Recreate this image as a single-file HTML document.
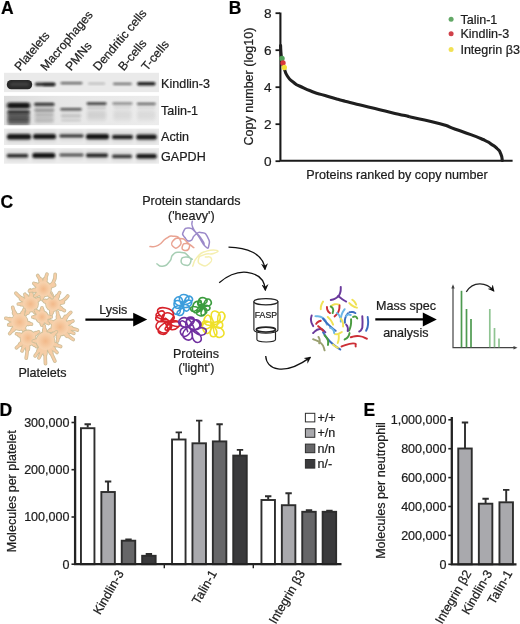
<!DOCTYPE html><html><head><meta charset="utf-8"><title>Figure</title>
<style>html,body{margin:0;padding:0;background:#fff;}svg{display:block;}text{font-family:"Liberation Sans", sans-serif;stroke:#1c1c1c;stroke-width:0.22px;}</style></head><body>
<svg width="520" height="624" viewBox="0 0 520 624">
<defs>
<filter id="b0" x="-20%" y="-50%" width="140%" height="200%"><feGaussianBlur stdDeviation="0.7"/></filter>
<filter id="b1" x="-20%" y="-100%" width="140%" height="300%"><feGaussianBlur stdDeviation="1.1 0.8"/></filter>
<filter id="b2" x="-20%" y="-100%" width="140%" height="300%"><feGaussianBlur stdDeviation="1.4 1.3"/></filter>
<filter id="b3" x="-20%" y="-50%" width="140%" height="200%"><feGaussianBlur stdDeviation="1.5 2.2"/></filter>
<filter id="soft" x="-5%" y="-5%" width="110%" height="110%"><feGaussianBlur stdDeviation="0.35"/></filter>
<radialGradient id="pg" cx="50%" cy="50%" r="50%"><stop offset="0" stop-color="#f2b98a"/><stop offset="0.7" stop-color="#f6cda6"/><stop offset="1" stop-color="#f7d3b0"/></radialGradient>
<marker id="ah" viewBox="0 0 10 10" refX="8.5" refY="5" markerWidth="5.4" markerHeight="5.4" orient="auto-start-reverse"><path d="M0,0 L10,5 L0,10 L3.2,5 z" fill="#111"/></marker>
<linearGradient id="r2" x1="0" y1="0" x2="1" y2="0"><stop offset="0" stop-color="#dcdcdc"/><stop offset="0.35" stop-color="#e6e6e6"/><stop offset="1" stop-color="#ececec"/></linearGradient>
</defs>
<rect width="520" height="624" fill="#fff"/>
<text x="0.9" y="14" font-size="17.5" text-anchor="start" font-weight="bold" fill="#000">A</text>
<text x="228.7" y="13.8" font-size="17.5" text-anchor="start" font-weight="bold" fill="#000">B</text>
<text x="0.4" y="207.9" font-size="17.5" text-anchor="start" font-weight="bold" fill="#000">C</text>
<text x="-0.5" y="415.7" font-size="17.5" text-anchor="start" font-weight="bold" fill="#000">D</text>
<text x="363.5" y="415.6" font-size="17.5" text-anchor="start" font-weight="bold" fill="#000">E</text>
<g id="panelA">
<rect x="4" y="72.8" width="155.2" height="19.5" fill="#eaeaea"/>
<rect x="4" y="95.6" width="155.2" height="29.8" fill="url(#r2)"/>
<rect x="4" y="128.4" width="155.2" height="16.6" fill="#ebebeb"/>
<rect x="4" y="148.1" width="155.2" height="15.7" fill="#ececec"/>
<g>
<rect x="6.8" y="80" width="25.4" height="9.2" rx="4.4" fill="#2a2a2a" filter="url(#b0)"/>
<rect x="10" y="82.6" width="19" height="3.6" rx="1.8" fill="#4a4a4a" opacity="0.7" filter="url(#b1)"/>
<rect x="34.95" y="82.40" width="20.5" height="3.6" rx="1.80" fill="#111" opacity="0.85" filter="url(#b1)"/>
<rect x="43.00" y="83.50" width="12" height="2.6" rx="1.30" fill="#111" opacity="0.5" filter="url(#b1)"/>
<rect x="60.50" y="82.05" width="22" height="2.3" rx="1.15" fill="#111" opacity="0.62" filter="url(#b1)"/>
<rect x="88.10" y="82.80" width="17" height="1.6" rx="0.80" fill="#111" opacity="0.25" filter="url(#b1)"/>
<rect x="112.90" y="82.65" width="19" height="2.3" rx="1.15" fill="#111" opacity="0.55" filter="url(#b1)"/>
<rect x="137.05" y="82.10" width="18.5" height="3.4" rx="1.70" fill="#111" opacity="0.92" filter="url(#b1)"/>
<rect x="7.10" y="102.60" width="23" height="6" rx="2.50" fill="#111" opacity="0.95" filter="url(#b2)"/>
<rect x="7.35" y="110.50" width="22.5" height="3" rx="1.50" fill="#111" opacity="0.8" filter="url(#b1)"/>
<rect x="7.60" y="110.50" width="22" height="13" rx="2.50" fill="#111" opacity="0.5" filter="url(#b3)"/>
<rect x="8.10" y="117.50" width="21" height="7" rx="2.50" fill="#111" opacity="0.3" filter="url(#b3)"/>
<rect x="7.60" y="114.65" width="22" height="1.3" rx="0.65" fill="#111" opacity="0.4" filter="url(#b1)"/>
<rect x="7.60" y="117.65" width="22" height="1.3" rx="0.65" fill="#111" opacity="0.35" filter="url(#b1)"/>
<rect x="7.60" y="120.55" width="22" height="1.3" rx="0.65" fill="#111" opacity="0.35" filter="url(#b1)"/>
<rect x="7.60" y="123.15" width="22" height="1.3" rx="0.65" fill="#111" opacity="0.3" filter="url(#b1)"/>
<rect x="34.05" y="102.70" width="20.5" height="3" rx="1.50" fill="#111" opacity="0.85" filter="url(#b1)"/>
<rect x="34.30" y="109.30" width="20" height="2" rx="1.00" fill="#111" opacity="0.5" filter="url(#b1)"/>
<rect x="34.80" y="106.60" width="19" height="1.4" rx="0.70" fill="#111" opacity="0.25" filter="url(#b1)"/>
<rect x="34.80" y="113.30" width="19" height="1.4" rx="0.70" fill="#111" opacity="0.2" filter="url(#b1)"/>
<rect x="34.80" y="113.00" width="19" height="9" rx="2.50" fill="#111" opacity="0.16" filter="url(#b3)"/>
<rect x="34.80" y="120.30" width="19" height="1.4" rx="0.70" fill="#111" opacity="0.15" filter="url(#b1)"/>
<rect x="60.25" y="108.05" width="21.5" height="2.5" rx="1.25" fill="#111" opacity="0.68" filter="url(#b1)"/>
<rect x="61.00" y="115.30" width="20" height="1.4" rx="0.70" fill="#111" opacity="0.2" filter="url(#b1)"/>
<rect x="61.00" y="119.85" width="20" height="1.3" rx="0.65" fill="#111" opacity="0.14" filter="url(#b1)"/>
<rect x="61.00" y="111.00" width="20" height="8" rx="2.50" fill="#111" opacity="0.06" filter="url(#b3)"/>
<rect x="86.60" y="102.30" width="20" height="2.6" rx="1.30" fill="#111" opacity="0.78" filter="url(#b1)"/>
<rect x="87.10" y="106.80" width="19" height="1.4" rx="0.70" fill="#111" opacity="0.2" filter="url(#b1)"/>
<rect x="87.10" y="110.00" width="19" height="10" rx="2.50" fill="#111" opacity="0.1" filter="url(#b3)"/>
<rect x="112.40" y="102.40" width="20" height="2" rx="1.00" fill="#111" opacity="0.55" filter="url(#b1)"/>
<rect x="113.40" y="106.30" width="18" height="1.4" rx="0.70" fill="#111" opacity="0.12" filter="url(#b1)"/>
<rect x="113.40" y="110.00" width="18" height="10" rx="2.50" fill="#111" opacity="0.07" filter="url(#b3)"/>
<rect x="136.80" y="102.70" width="19" height="2.2" rx="1.10" fill="#111" opacity="0.62" filter="url(#b1)"/>
<rect x="137.30" y="106.60" width="18" height="1.4" rx="0.70" fill="#111" opacity="0.12" filter="url(#b1)"/>
<rect x="137.30" y="110.00" width="18" height="10" rx="2.50" fill="#111" opacity="0.07" filter="url(#b3)"/>
<rect x="6.50" y="132.00" width="25" height="9.6" rx="2.50" fill="#111" opacity="0.13" filter="url(#b3)"/>
<rect x="7.00" y="134.00" width="24" height="5.6" rx="2.50" fill="#111" opacity="0.93" filter="url(#b1)"/>
<rect x="32.50" y="132.00" width="24" height="9" rx="2.50" fill="#111" opacity="0.13" filter="url(#b3)"/>
<rect x="33.00" y="134.00" width="23" height="5" rx="2.50" fill="#111" opacity="0.93" filter="url(#b1)"/>
<rect x="59.00" y="132.50" width="25" height="6.8" rx="2.50" fill="#111" opacity="0.13" filter="url(#b3)"/>
<rect x="59.50" y="134.50" width="24" height="2.8" rx="1.40" fill="#111" opacity="0.85" filter="url(#b1)"/>
<rect x="85.50" y="131.90" width="24" height="9.4" rx="2.50" fill="#111" opacity="0.13" filter="url(#b3)"/>
<rect x="86.00" y="133.90" width="23" height="5.4" rx="2.50" fill="#111" opacity="0.95" filter="url(#b1)"/>
<rect x="111.50" y="133.00" width="22" height="8" rx="2.50" fill="#111" opacity="0.13" filter="url(#b3)"/>
<rect x="112.00" y="135.00" width="21" height="4" rx="2.00" fill="#111" opacity="0.9" filter="url(#b1)"/>
<rect x="135.75" y="132.50" width="21.5" height="9" rx="2.50" fill="#111" opacity="0.13" filter="url(#b3)"/>
<rect x="136.25" y="134.50" width="20.5" height="5" rx="2.50" fill="#111" opacity="0.93" filter="url(#b1)"/>
<rect x="6.25" y="152.00" width="22.5" height="7.4" rx="2.50" fill="#111" opacity="0.12" filter="url(#b3)"/>
<rect x="6.75" y="154.00" width="21.5" height="3.4" rx="1.70" fill="#111" opacity="0.85" filter="url(#b1)"/>
<rect x="31.80" y="150.90" width="24" height="9.2" rx="2.50" fill="#111" opacity="0.12" filter="url(#b3)"/>
<rect x="32.30" y="152.90" width="23" height="5.2" rx="2.50" fill="#111" opacity="0.95" filter="url(#b1)"/>
<rect x="59.00" y="151.70" width="25" height="6.6" rx="2.50" fill="#111" opacity="0.12" filter="url(#b3)"/>
<rect x="59.50" y="153.70" width="24" height="2.6" rx="1.30" fill="#111" opacity="0.72" filter="url(#b1)"/>
<rect x="85.50" y="151.40" width="23" height="7.8" rx="2.50" fill="#111" opacity="0.12" filter="url(#b3)"/>
<rect x="86.00" y="153.40" width="22" height="3.8" rx="1.90" fill="#111" opacity="0.88" filter="url(#b1)"/>
<rect x="111.50" y="152.70" width="21" height="7.2" rx="2.50" fill="#111" opacity="0.12" filter="url(#b3)"/>
<rect x="112.00" y="154.70" width="20" height="3.2" rx="1.60" fill="#111" opacity="0.8" filter="url(#b1)"/>
<rect x="135.75" y="151.90" width="21.5" height="8.6" rx="2.50" fill="#111" opacity="0.12" filter="url(#b3)"/>
<rect x="136.25" y="153.90" width="20.5" height="4.6" rx="2.30" fill="#111" opacity="0.93" filter="url(#b1)"/>
</g>
<rect x="0" y="92.3" width="165" height="3.3" fill="#fff"/><rect x="0" y="125.4" width="165" height="3" fill="#fff"/><rect x="0" y="145" width="165" height="3.1" fill="#fff"/><rect x="0" y="163.8" width="165" height="5" fill="#fff"/><rect x="0" y="64" width="4" height="106" fill="#fff"/><rect x="159.2" y="72" width="2" height="98" fill="#fff"/>
<text x="161.1" y="88" font-size="12.55" text-anchor="start" font-weight="normal" fill="#1c1c1c">Kindlin-3</text>
<text x="161.1" y="115" font-size="12.55" text-anchor="start" font-weight="normal" fill="#1c1c1c">Talin-1</text>
<text x="161.1" y="141" font-size="12.55" text-anchor="start" font-weight="normal" fill="#1c1c1c">Actin</text>
<text x="161.1" y="160.5" font-size="12.55" text-anchor="start" font-weight="normal" fill="#1c1c1c">GAPDH</text>
<text x="20" y="71.6" font-size="12.2" text-anchor="start" font-weight="normal" fill="#1c1c1c" transform="rotate(-50 20 71.6)">Platelets</text>
<text x="46" y="71.6" font-size="12.2" text-anchor="start" font-weight="normal" fill="#1c1c1c" transform="rotate(-50 46 71.6)">Macrophages</text>
<text x="71" y="71.6" font-size="12.2" text-anchor="start" font-weight="normal" fill="#1c1c1c" transform="rotate(-50 71 71.6)">PMNs</text>
<text x="98.5" y="71.6" font-size="12.2" text-anchor="start" font-weight="normal" fill="#1c1c1c" transform="rotate(-50 98.5 71.6)">Dendritic cells</text>
<text x="123.7" y="71.6" font-size="12.2" text-anchor="start" font-weight="normal" fill="#1c1c1c" transform="rotate(-50 123.7 71.6)">B-cells</text>
<text x="147" y="71.6" font-size="12.2" text-anchor="start" font-weight="normal" fill="#1c1c1c" transform="rotate(-50 147 71.6)">T-cells</text>
</g>
<g id="panelB">
<path d="M280.4,12.4 V160.8 H512.6" fill="none" stroke="#1a1a1a" stroke-width="2.1"/>
<line x1="275.5" y1="161.2" x2="280" y2="161.2" stroke="#1a1a1a" stroke-width="1.8"/>
<text x="271.6" y="166.1" font-size="13.6" text-anchor="end" font-weight="normal" fill="#1c1c1c">0</text>
<line x1="275.5" y1="124.19999999999999" x2="280" y2="124.19999999999999" stroke="#1a1a1a" stroke-width="1.8"/>
<text x="271.6" y="129.1" font-size="13.6" text-anchor="end" font-weight="normal" fill="#1c1c1c">2</text>
<line x1="275.5" y1="87.19999999999999" x2="280" y2="87.19999999999999" stroke="#1a1a1a" stroke-width="1.8"/>
<text x="271.6" y="92.1" font-size="13.6" text-anchor="end" font-weight="normal" fill="#1c1c1c">4</text>
<line x1="275.5" y1="50.19999999999999" x2="280" y2="50.19999999999999" stroke="#1a1a1a" stroke-width="1.8"/>
<text x="271.6" y="55.09999999999999" font-size="13.6" text-anchor="end" font-weight="normal" fill="#1c1c1c">6</text>
<line x1="275.5" y1="13.199999999999989" x2="280" y2="13.199999999999989" stroke="#1a1a1a" stroke-width="1.8"/>
<text x="271.6" y="18.099999999999987" font-size="13.6" text-anchor="end" font-weight="normal" fill="#1c1c1c">8</text>
<text x="253.3" y="86.6" font-size="12.55" text-anchor="middle" font-weight="normal" fill="#1c1c1c" transform="rotate(-90 253.3 86.6)">Copy number (log10)</text>
<text x="397" y="179" font-size="12.6" text-anchor="middle" font-weight="normal" fill="#1c1c1c">Proteins ranked by copy number</text>
<path d="M280.60,45.50 C280.70,47.67 280.57,47.83 280.90,52.00 C281.23,56.17 281.03,54.33 281.60,58.00 C282.17,61.67 281.80,59.83 282.60,63.00 C283.40,66.17 282.37,63.08 284.00,67.50 C285.63,71.92 284.25,71.25 287.50,76.25 C290.75,81.25 289.58,79.17 293.75,82.50 C297.92,85.83 293.75,83.17 300.00,86.25 C306.25,89.33 304.17,88.67 312.50,91.75 C320.83,94.83 316.67,93.00 325.00,95.50 C333.33,98.00 329.17,96.92 337.50,99.25 C345.83,101.58 341.67,100.42 350.00,102.50 C358.33,104.58 354.17,103.50 362.50,105.50 C370.83,107.50 365.83,106.27 375.00,108.50 C384.17,110.73 380.00,109.83 390.00,112.20 C400.00,114.57 396.67,113.67 405.00,115.60 C413.33,117.53 403.33,115.25 415.00,118.00 C426.67,120.75 426.53,120.12 440.00,123.85 C453.47,127.58 445.13,125.62 455.40,129.20 C465.67,132.78 461.60,131.17 470.80,134.60 C480.00,138.03 476.33,136.42 483.00,139.50 C489.67,142.58 486.13,140.85 490.80,143.85 C495.47,146.85 493.67,145.17 497.00,148.50 C500.33,151.83 499.03,149.85 500.80,153.85 C502.57,157.85 501.80,158.28 502.30,160.50" fill="none" stroke="#1f1f1f" stroke-width="3.1" stroke-linecap="round" stroke-linejoin="round"/>
<circle cx="282" cy="58.5" r="2.7" fill="#4f9f58"/>
<circle cx="283" cy="63" r="2.7" fill="#d8373d"/>
<circle cx="284.3" cy="67.5" r="2.7" fill="#f3df3c"/>
<circle cx="451.1" cy="19.2" r="2.5" fill="#62a866"/>
<text x="460.4" y="23.799999999999997" font-size="12.55" text-anchor="start" font-weight="normal" fill="#1c1c1c">Talin-1</text>
<circle cx="451.1" cy="33.8" r="2.5" fill="#d0414a"/>
<text x="460.4" y="38.4" font-size="12.55" text-anchor="start" font-weight="normal" fill="#1c1c1c">Kindlin-3</text>
<circle cx="451.1" cy="49.6" r="2.5" fill="#f1e155"/>
<text x="460.4" y="54.2" font-size="12.55" text-anchor="start" font-weight="normal" fill="#1c1c1c">Integrin β3</text>
</g>
<g id="panelC">
<g filter="url(#soft)">
<path d="M28.6,302.9 Q19.9,297.9 15.9,293.2 M30.7,301.8 Q31.4,294.0 30.1,289.9 M32.4,302.9 Q38.3,299.5 41.1,297.9 M28.2,304.0 Q21.5,304.0 18.3,304.0 M29.7,306.1 Q27.4,312.4 25.1,314.9 M31.6,305.9 Q34.7,311.3 36.1,313.7 M29.4,302.1 Q26.3,296.7 24.9,294.3" fill="none" stroke="#cdbf9a" stroke-width="3.7" stroke-linecap="round"/><path d="M28.6,302.9 L21.4,298.8 M30.7,301.8 L31.3,294.7 M32.4,302.9 L38.1,299.6 M28.2,304.0 L21.7,304.0 M29.7,306.1 L27.5,312.3 M31.6,305.9 L34.8,311.4 M29.4,302.1 L26.2,296.6" fill="none" stroke="#cdbf9a" stroke-width="5.2" stroke-linecap="round"/><circle cx="30.5" cy="304" r="8.4" fill="#cdbf9a"/><path d="M28.6,302.9 Q19.9,297.9 15.9,293.2 M30.7,301.8 Q31.4,294.0 30.1,289.9 M32.4,302.9 Q38.3,299.5 41.1,297.9 M28.2,304.0 Q21.5,304.0 18.3,304.0 M29.7,306.1 Q27.4,312.4 25.1,314.9 M31.6,305.9 Q34.7,311.3 36.1,313.7 M29.4,302.1 Q26.3,296.7 24.9,294.3" fill="none" stroke="#f6cda6" stroke-width="2.1" stroke-linecap="round"/><path d="M28.6,302.9 L21.4,298.8 M30.7,301.8 L31.3,294.7 M32.4,302.9 L38.1,299.6 M28.2,304.0 L21.7,304.0 M29.7,306.1 L27.5,312.3 M31.6,305.9 L34.8,311.4 M29.4,302.1 L26.2,296.6" fill="none" stroke="#f6cda6" stroke-width="3.5" stroke-linecap="round"/><circle cx="30.5" cy="304" r="7.5" fill="url(#pg)"/>
<path d="M55.1,303.6 Q64.3,301.6 67.8,296.0 M54.0,302.2 Q57.7,295.9 59.6,292.6 M54.8,305.1 Q61.1,308.7 64.4,310.6 M52.6,306.1 Q51.6,312.1 51.1,315.0 M51.0,303.3 Q45.8,301.4 43.4,300.5 M52.6,301.9 Q51.6,295.9 51.1,293.0" fill="none" stroke="#cdbf9a" stroke-width="3.7" stroke-linecap="round"/><path d="M55.1,303.6 L62.6,302.0 M54.0,302.2 L57.4,296.4 M54.8,305.1 L60.6,308.4 M52.6,306.1 L51.6,312.1 M51.0,303.3 L45.6,301.3 M52.6,301.9 L51.6,295.9" fill="none" stroke="#cdbf9a" stroke-width="5.2" stroke-linecap="round"/><circle cx="53" cy="304" r="7.9" fill="#cdbf9a"/><path d="M55.1,303.6 Q64.3,301.6 67.8,296.0 M54.0,302.2 Q57.7,295.9 59.6,292.6 M54.8,305.1 Q61.1,308.7 64.4,310.6 M52.6,306.1 Q51.6,312.1 51.1,315.0 M51.0,303.3 Q45.8,301.4 43.4,300.5 M52.6,301.9 Q51.6,295.9 51.1,293.0" fill="none" stroke="#f6cda6" stroke-width="2.1" stroke-linecap="round"/><path d="M55.1,303.6 L62.6,302.0 M54.0,302.2 L57.4,296.4 M54.8,305.1 L60.6,308.4 M52.6,306.1 L51.6,312.1 M51.0,303.3 L45.6,301.3 M52.6,301.9 L51.6,295.9" fill="none" stroke="#f6cda6" stroke-width="3.5" stroke-linecap="round"/><circle cx="53" cy="304" r="7" fill="url(#pg)"/>
<path d="M42.8,286.9 Q40.3,279.2 37.7,275.5 M43.9,286.8 Q45.3,278.6 47.0,274.2 M45.6,288.2 Q55.9,284.0 55.2,274.3 M41.3,289.3 Q33.5,290.4 29.4,291.0 M41.8,290.4 Q37.1,294.4 34.9,296.2 M45.1,290.6 Q49.8,295.3 52.1,297.6 M43.1,291.2 Q42.1,296.7 41.7,299.0 M41.6,287.9 Q36.2,284.8 33.8,283.4" fill="none" stroke="#cdbf9a" stroke-width="3.7" stroke-linecap="round"/><path d="M42.8,286.9 L40.6,279.9 M43.9,286.8 L45.2,279.5 M45.6,288.2 L53.8,284.9 M41.3,289.3 L34.2,290.3 M41.8,290.4 L37.0,294.5 M45.1,290.6 L49.7,295.2 M43.1,291.2 L42.1,297.1 M41.6,287.9 L36.1,284.7" fill="none" stroke="#cdbf9a" stroke-width="5.2" stroke-linecap="round"/><circle cx="43.5" cy="289" r="8.4" fill="#cdbf9a"/><path d="M42.8,286.9 Q40.3,279.2 37.7,275.5 M43.9,286.8 Q45.3,278.6 47.0,274.2 M45.6,288.2 Q55.9,284.0 55.2,274.3 M41.3,289.3 Q33.5,290.4 29.4,291.0 M41.8,290.4 Q37.1,294.4 34.9,296.2 M45.1,290.6 Q49.8,295.3 52.1,297.6 M43.1,291.2 Q42.1,296.7 41.7,299.0 M41.6,287.9 Q36.2,284.8 33.8,283.4" fill="none" stroke="#f6cda6" stroke-width="2.1" stroke-linecap="round"/><path d="M42.8,286.9 L40.6,279.9 M43.9,286.8 L45.2,279.5 M45.6,288.2 L53.8,284.9 M41.3,289.3 L34.2,290.3 M41.8,290.4 L37.0,294.5 M45.1,290.6 L49.7,295.2 M43.1,291.2 L42.1,297.1 M41.6,287.9 L36.1,284.7" fill="none" stroke="#f6cda6" stroke-width="3.5" stroke-linecap="round"/><circle cx="43.5" cy="289" r="7.5" fill="url(#pg)"/>
<path d="M42.0,315.2 Q42.0,310.1 42.0,307.8 M43.8,317.0 Q48.9,317.0 51.2,317.0 M40.2,317.0 Q35.1,317.0 32.8,317.0 M42.0,318.8 Q42.0,323.3 42.0,325.2 M43.3,318.3 Q46.9,321.9 48.5,323.5 M40.7,315.7 Q37.1,312.1 35.5,310.5" fill="none" stroke="#cdbf9a" stroke-width="3.7" stroke-linecap="round"/><path d="M42.0,315.2 L42.0,310.1 M43.8,317.0 L48.9,317.0 M40.2,317.0 L35.1,317.0 M42.0,318.8 L42.0,323.6 M43.3,318.3 L46.9,321.9 M40.7,315.7 L37.1,312.1" fill="none" stroke="#cdbf9a" stroke-width="5.2" stroke-linecap="round"/><circle cx="42" cy="317" r="6.9" fill="#cdbf9a"/><path d="M42.0,315.2 Q42.0,310.1 42.0,307.8 M43.8,317.0 Q48.9,317.0 51.2,317.0 M40.2,317.0 Q35.1,317.0 32.8,317.0 M42.0,318.8 Q42.0,323.3 42.0,325.2 M43.3,318.3 Q46.9,321.9 48.5,323.5 M40.7,315.7 Q37.1,312.1 35.5,310.5" fill="none" stroke="#f6cda6" stroke-width="2.1" stroke-linecap="round"/><path d="M42.0,315.2 L42.0,310.1 M43.8,317.0 L48.9,317.0 M40.2,317.0 L35.1,317.0 M42.0,318.8 L42.0,323.6 M43.3,318.3 L46.9,321.9 M40.7,315.7 L37.1,312.1" fill="none" stroke="#f6cda6" stroke-width="3.5" stroke-linecap="round"/><circle cx="42" cy="317" r="6" fill="url(#pg)"/>
<path d="M17.2,321.4 Q9.6,319.4 5.8,318.3 M18.3,319.9 Q13.8,312.2 12.7,307.3 M18.0,323.8 Q12.6,330.2 9.7,333.6 M20.3,319.7 Q22.8,312.9 24.0,309.6 M20.7,324.1 Q24.1,329.9 25.6,332.6 M21.9,322.4 Q28.5,323.6 31.5,324.1 M17.2,322.6 Q11.2,324.2 8.7,324.9" fill="none" stroke="#cdbf9a" stroke-width="3.7" stroke-linecap="round"/><path d="M17.2,321.4 L10.1,319.5 M18.3,319.9 L14.4,313.1 M18.0,323.8 L13.1,329.7 M20.3,319.7 L22.7,313.1 M20.7,324.1 L24.1,329.9 M21.9,322.4 L28.5,323.6 M17.2,322.6 L10.9,324.3" fill="none" stroke="#cdbf9a" stroke-width="5.2" stroke-linecap="round"/><circle cx="19.5" cy="322" r="8.9" fill="#cdbf9a"/><path d="M17.2,321.4 Q9.6,319.4 5.8,318.3 M18.3,319.9 Q13.8,312.2 12.7,307.3 M18.0,323.8 Q12.6,330.2 9.7,333.6 M20.3,319.7 Q22.8,312.9 24.0,309.6 M20.7,324.1 Q24.1,329.9 25.6,332.6 M21.9,322.4 Q28.5,323.6 31.5,324.1 M17.2,322.6 Q11.2,324.2 8.7,324.9" fill="none" stroke="#f6cda6" stroke-width="2.1" stroke-linecap="round"/><path d="M17.2,321.4 L10.1,319.5 M18.3,319.9 L14.4,313.1 M18.0,323.8 L13.1,329.7 M20.3,319.7 L22.7,313.1 M20.7,324.1 L24.1,329.9 M21.9,322.4 L28.5,323.6 M17.2,322.6 L10.9,324.3" fill="none" stroke="#f6cda6" stroke-width="3.5" stroke-linecap="round"/><circle cx="19.5" cy="322" r="8" fill="url(#pg)"/>
<path d="M26.3,339.4 Q19.9,344.8 16.4,347.8 M27.9,340.2 Q27.5,351.4 26.2,358.1 M29.6,339.6 Q34.3,344.3 36.6,346.6 M25.9,337.2 Q19.6,334.9 16.5,333.8 M29.9,336.9 Q35.8,333.5 38.6,331.9 M27.0,340.0 Q23.7,347.1 22.0,350.9" fill="none" stroke="#cdbf9a" stroke-width="3.7" stroke-linecap="round"/><path d="M26.3,339.4 L20.6,344.2 M27.9,340.2 L27.6,349.0 M29.6,339.6 L34.2,344.2 M25.9,337.2 L19.7,335.0 M29.9,336.9 L35.6,333.6 M27.0,340.0 L24.0,346.5" fill="none" stroke="#cdbf9a" stroke-width="5.2" stroke-linecap="round"/><circle cx="28" cy="338" r="8.4" fill="#cdbf9a"/><path d="M26.3,339.4 Q19.9,344.8 16.4,347.8 M27.9,340.2 Q27.5,351.4 26.2,358.1 M29.6,339.6 Q34.3,344.3 36.6,346.6 M25.9,337.2 Q19.6,334.9 16.5,333.8 M29.9,336.9 Q35.8,333.5 38.6,331.9 M27.0,340.0 Q23.7,347.1 22.0,350.9" fill="none" stroke="#f6cda6" stroke-width="2.1" stroke-linecap="round"/><path d="M26.3,339.4 L20.6,344.2 M27.9,340.2 L27.6,349.0 M29.6,339.6 L34.2,344.2 M25.9,337.2 L19.7,335.0 M29.9,336.9 L35.6,333.6 M27.0,340.0 L24.0,346.5" fill="none" stroke="#f6cda6" stroke-width="3.5" stroke-linecap="round"/><circle cx="28" cy="338" r="7.5" fill="url(#pg)"/>
<path d="M62.5,327.2 Q72.2,328.1 77.4,330.1 M61.3,324.8 Q66.3,316.1 70.8,312.4 M59.6,324.5 Q58.1,316.3 57.4,312.0 M61.6,329.0 Q68.1,336.6 73.2,339.5 M59.6,329.5 Q58.2,337.2 57.5,341.0 M57.6,327.9 Q51.3,330.2 48.5,331.2 M57.8,325.7 Q52.0,322.4 49.4,320.9 M62.3,325.9 Q69.4,322.6 72.9,321.0 M62.3,328.1 Q69.9,331.6 73.8,333.4" fill="none" stroke="#cdbf9a" stroke-width="3.7" stroke-linecap="round"/><path d="M62.5,327.2 L71.0,328.0 M61.3,324.8 L65.6,317.3 M59.6,324.5 L58.2,316.8 M61.6,329.0 L67.2,335.6 M59.6,329.5 L58.2,336.9 M57.6,327.9 L51.0,330.3 M57.8,325.7 L51.7,322.2 M62.3,325.9 L69.2,322.7 M62.3,328.1 L69.4,331.4" fill="none" stroke="#cdbf9a" stroke-width="5.2" stroke-linecap="round"/><circle cx="60" cy="327" r="9.4" fill="#cdbf9a"/><path d="M62.5,327.2 Q72.2,328.1 77.4,330.1 M61.3,324.8 Q66.3,316.1 70.8,312.4 M59.6,324.5 Q58.1,316.3 57.4,312.0 M61.6,329.0 Q68.1,336.6 73.2,339.5 M59.6,329.5 Q58.2,337.2 57.5,341.0 M57.6,327.9 Q51.3,330.2 48.5,331.2 M57.8,325.7 Q52.0,322.4 49.4,320.9 M62.3,325.9 Q69.4,322.6 72.9,321.0 M62.3,328.1 Q69.9,331.6 73.8,333.4" fill="none" stroke="#f6cda6" stroke-width="2.1" stroke-linecap="round"/><path d="M62.5,327.2 L71.0,328.0 M61.3,324.8 L65.6,317.3 M59.6,324.5 L58.2,316.8 M61.6,329.0 L67.2,335.6 M59.6,329.5 L58.2,336.9 M57.6,327.9 L51.0,330.3 M57.8,325.7 L51.7,322.2 M62.3,325.9 L69.2,322.7 M62.3,328.1 L69.4,331.4" fill="none" stroke="#f6cda6" stroke-width="3.5" stroke-linecap="round"/><circle cx="60" cy="327" r="8.5" fill="url(#pg)"/>
<path d="M45.4,343.7 Q45.0,356.2 45.5,363.7 M46.6,343.4 Q51.8,354.5 54.9,361.1 M44.0,343.2 Q38.2,351.4 35.1,355.9 M45.3,338.3 Q44.5,330.0 44.2,325.9 M48.0,341.9 Q56.4,345.0 60.7,346.5 M42.8,341.0 Q36.1,341.0 33.3,341.0 M47.6,339.3 Q53.6,334.2 56.4,331.9 M44.7,343.6 Q41.6,353.1 38.9,357.9 M47.4,342.9 Q53.7,349.2 57.0,352.5" fill="none" stroke="#cdbf9a" stroke-width="3.7" stroke-linecap="round"/><path d="M45.4,343.7 L45.1,353.8 M46.6,343.4 L50.9,352.5 M44.0,343.2 L38.9,350.5 M45.3,338.3 L44.6,330.3 M48.0,341.9 L55.9,344.8 M42.8,341.0 L35.6,341.0 M47.6,339.3 L53.5,334.3 M44.7,343.6 L41.9,352.0 M47.4,342.9 L53.3,348.8" fill="none" stroke="#cdbf9a" stroke-width="5.2" stroke-linecap="round"/><circle cx="45.5" cy="341" r="9.9" fill="#cdbf9a"/><path d="M45.4,343.7 Q45.0,356.2 45.5,363.7 M46.6,343.4 Q51.8,354.5 54.9,361.1 M44.0,343.2 Q38.2,351.4 35.1,355.9 M45.3,338.3 Q44.5,330.0 44.2,325.9 M48.0,341.9 Q56.4,345.0 60.7,346.5 M42.8,341.0 Q36.1,341.0 33.3,341.0 M47.6,339.3 Q53.6,334.2 56.4,331.9 M44.7,343.6 Q41.6,353.1 38.9,357.9 M47.4,342.9 Q53.7,349.2 57.0,352.5" fill="none" stroke="#f6cda6" stroke-width="2.1" stroke-linecap="round"/><path d="M45.4,343.7 L45.1,353.8 M46.6,343.4 L50.9,352.5 M44.0,343.2 L38.9,350.5 M45.3,338.3 L44.6,330.3 M48.0,341.9 L55.9,344.8 M42.8,341.0 L35.6,341.0 M47.6,339.3 L53.5,334.3 M44.7,343.6 L41.9,352.0 M47.4,342.9 L53.3,348.8" fill="none" stroke="#f6cda6" stroke-width="3.5" stroke-linecap="round"/><circle cx="45.5" cy="341" r="9" fill="url(#pg)"/>
</g>
<text x="42.5" y="377" font-size="12.55" text-anchor="middle" font-weight="normal" fill="#1c1c1c">Platelets</text>
<text x="113.3" y="314.4" font-size="12.55" text-anchor="middle" font-weight="normal" fill="#1c1c1c">Lysis</text>
<line x1="85.4" y1="319.6" x2="136" y2="319.6" stroke="#000" stroke-width="2.2"/><path d="M133.2,312.7 L147.2,319.6 L133.2,326.5 z" fill="#000"/>
<text x="191.3" y="204.5" font-size="12.55" text-anchor="middle" font-weight="normal" fill="#1c1c1c">Protein standards</text>
<text x="191.3" y="220" font-size="12.55" text-anchor="middle" font-weight="normal" fill="#1c1c1c">('heavy')</text>
<g fill="none" stroke-width="1.5" stroke-linecap="round" stroke-linejoin="round">
<path d="M192.24,221.16 C192.39,223.23 190.62,222.39 192.70,227.39 C194.77,232.39 194.24,229.77 198.47,236.16 C202.70,242.54 201.93,243.47 205.39,246.54 C208.85,249.62 208.08,248.47 208.85,245.39 C209.62,242.31 210.01,241.54 207.70,237.31 C205.39,233.08 206.16,233.46 201.93,232.70 C197.70,231.93 198.85,232.31 195.00,235.00 C191.16,237.70 193.85,240.00 190.39,240.77 C186.93,241.54 186.93,240.39 184.62,237.31 C182.31,234.23 181.93,234.62 183.47,231.54 C185.00,228.46 185.00,227.70 189.23,228.08 C193.47,228.46 191.93,228.85 196.16,232.70 C200.39,236.54 199.24,235.77 201.93,239.62 C204.62,243.47 203.47,242.70 204.24,244.23" stroke="#9b89c9"/>
<path d="M150.00,246.54 C152.69,246.16 152.69,248.08 158.08,245.39 C163.46,242.70 161.16,241.54 166.16,238.47 C171.16,235.39 168.46,235.77 173.08,236.16 C177.70,236.54 178.08,236.16 180.00,239.62 C181.93,243.08 181.16,244.23 178.85,246.54 C176.54,248.85 175.00,248.47 173.08,246.54 C171.16,244.62 170.77,243.47 173.08,240.77 C175.39,238.08 175.39,238.08 180.00,238.47 C184.62,238.85 183.85,238.85 186.93,241.93 C190.00,245.00 190.00,244.85 189.23,247.70 C188.47,250.54 186.93,250.85 184.62,250.47 C182.31,250.08 181.54,248.85 182.31,246.54 C183.08,244.23 183.08,243.16 186.93,243.54 C190.77,243.93 191.54,246.31 193.85,247.70" stroke="#e9a392"/>
<path d="M156.92,263.85 C158.85,264.62 158.46,266.93 162.69,266.16 C166.93,265.39 166.16,265.39 169.62,261.54 C173.08,257.70 169.62,257.70 173.08,254.62 C176.54,251.54 175.00,251.93 180.00,252.31 C185.00,252.70 184.62,252.31 188.08,255.77 C191.54,259.24 191.54,259.62 190.39,262.70 C189.23,265.78 187.70,265.78 184.62,265.01 C181.54,264.24 180.77,263.08 181.16,260.39 C181.54,257.70 182.08,257.31 185.77,256.93 C189.47,256.54 190.08,258.47 192.24,259.24" stroke="#a7ceb4"/>
<path d="M192.70,266.16 C194.24,263.08 192.70,261.93 197.31,256.93 C201.93,251.93 200.01,253.31 206.54,251.16 C213.08,249.00 214.62,249.70 216.93,250.47 C219.24,251.24 217.70,252.08 213.47,253.47 C209.24,254.85 209.24,252.70 204.24,254.62 C199.24,256.54 199.24,255.77 198.47,259.24 C197.70,262.70 198.47,263.47 201.93,265.01 C205.39,266.54 205.77,266.16 208.85,263.85 C211.93,261.54 212.31,260.39 211.16,258.08 C210.01,255.77 207.31,257.31 205.39,256.93" stroke="#f5efb0"/>
</g>
<path d="M183.4,306.8 C163.9,303.7 182.0,289.1 182.7,302.3 C195.8,294.2 194.5,312.0 179.9,306.2 C184.0,323.8 160.0,308.0 181.9,305.1 C170.5,286.8 202.9,296.2 181.3,304.0 C198.9,304.2 182.3,319.8 183.6,303.9 C172.4,318.2 169.2,292.1 183.8,303.5 C187.0,286.9 202.6,303.6 182.1,305.0 C190.2,321.2 166.4,315.8 182.9,308.0" fill="none" stroke="#3c9ddc" stroke-width="1.55" stroke-linejoin="round" stroke-linecap="round"/>
<path d="M202.1,305.8 C215.8,302.1 209.1,318.6 200.3,304.7 C192.4,321.4 182.9,300.6 200.2,308.4 C191.6,289.5 218.7,300.2 201.0,305.4 C216.6,311.3 195.6,321.7 202.4,309.2 C186.2,323.1 192.3,290.0 203.4,305.5 C207.5,288.9 219.4,309.7 202.6,305.7 C214.2,323.3 183.7,313.9 203.1,308.6 C190.2,303.5 204.6,294.3 200.6,306.0" fill="none" stroke="#3b9c3e" stroke-width="1.55" stroke-linejoin="round" stroke-linecap="round"/>
<path d="M217.8,322.9 C216.0,299.6 237.7,320.4 213.1,324.9 C225.8,340.0 201.6,341.3 213.5,325.3 C193.0,328.4 212.1,301.1 210.9,324.8 C227.0,312.5 226.1,338.5 211.7,323.2 C210.2,349.3 190.2,316.1 214.3,322.8 C202.3,304.4 230.3,309.2 216.2,326.5 C235.8,331.8 212.0,349.5 213.4,323.9 C198.4,340.3 197.0,309.4 214.5,326.2" fill="none" stroke="#efe02a" stroke-width="1.55" stroke-linejoin="round" stroke-linecap="round"/>
<path d="M165.4,318.2 C184.1,330.8 153.6,334.8 170.2,323.5 C170.6,345.3 140.7,322.6 166.8,319.6 C139.3,317.8 175.1,300.2 161.1,321.3 C161.4,303.2 185.5,319.6 167.7,321.4 C193.2,316.2 171.3,340.8 165.4,323.2 C176.7,342.1 141.8,334.2 168.6,320.9 C148.6,325.9 155.8,308.6 164.1,318.8 C139.6,301.6 192.2,304.9 166.1,324.9 C184.7,314.1 185.7,334.6 167.3,322.6" fill="none" stroke="#d7222a" stroke-width="1.55" stroke-linejoin="round" stroke-linecap="round"/>
<path d="M187.7,331.6 C177.3,306.8 212.3,324.4 195.1,329.6 C214.0,321.1 206.5,347.6 189.8,327.6 C201.9,350.1 167.2,337.5 191.7,325.1 C173.9,333.6 179.3,309.1 189.7,328.5 C177.1,311.5 205.9,315.3 188.8,327.1 C198.0,308.3 208.3,331.4 193.5,329.6 C213.0,340.4 189.4,352.6 192.1,328.7 C183.8,348.0 172.4,324.7 188.5,327.4 C166.6,327.2 187.2,304.2 194.5,329.8" fill="none" stroke="#6f2f9f" stroke-width="1.55" stroke-linejoin="round" stroke-linecap="round"/>
<text x="196" y="357.5" font-size="12.55" text-anchor="middle" font-weight="normal" fill="#1c1c1c">Proteins</text>
<text x="196.3" y="371.5" font-size="12.55" text-anchor="middle" font-weight="normal" fill="#1c1c1c">('light')</text>
<g fill="none" stroke="#111" stroke-width="1.3">
<path d="M228.5,247.1 C246,247.5 263.5,253 265,269.4" marker-end="url(#ah)"/>
<path d="M219.2,282.7 C229,274.5 239,271.5 247,272.4 S264.5,277 265.4,290.3" marker-end="url(#ah)"/>
<path d="M265.7,356 C266.5,369 283,377 310.3,357.4" marker-end="url(#ah)"/>
</g>
<g fill="#fff" stroke="#222" stroke-width="1.15">
<path d="M256.9,331 V339.6 A9.3,2.4 0 0 0 275.5,339.6 V331 z"/>
<path d="M253.9,301.7 V329.8 A12,3.4 0 0 0 277.9,329.8 V301.7 z"/>
<ellipse cx="265.9" cy="301.7" rx="12" ry="3.1"/>
<ellipse cx="265.9" cy="329.6" rx="9.6" ry="2.4" stroke-width="1.7"/>
</g>
<text x="265.9" y="318.2" font-size="8.7" text-anchor="middle" font-weight="normal" fill="#1c1c1c">FASP</text>
<g fill="none" stroke-width="1.95" stroke-linecap="round" stroke-linejoin="round">
<path d="M340.77,286.92 C340.62,288.72 341.08,289.23 340.31,292.31 C339.54,295.38 339.08,294.87 338.46,296.15" stroke="#6a3a9c"/>
<path d="M338.46,296.15 C337.18,297.03 337.18,297.49 334.62,298.77 C332.05,300.05 332.05,299.59 330.77,300.00" stroke="#6a3a9c"/>
<path d="M338.46,296.15 C339.74,297.18 339.74,297.44 342.31,299.23 C344.87,301.03 344.87,300.77 346.15,301.54" stroke="#6a3a9c"/>
<path d="M323.08,301.54 C322.46,302.82 322.00,302.82 321.23,305.38 C320.46,307.95 320.92,307.95 320.77,309.23" stroke="#f0e256"/>
<path d="M349.23,303.08 C350.51,304.10 350.51,304.62 353.08,306.15 C355.64,307.69 355.64,307.18 356.92,307.69" stroke="#f0e256"/>
<path d="M352.31,299.69 C353.08,300.41 353.33,300.21 354.62,301.85 C355.90,303.49 355.64,303.69 356.15,304.62" stroke="#f0e256"/>
<path d="M326.92,306.92 C327.18,308.10 326.67,308.41 327.69,310.46 C328.72,312.51 329.23,312.21 330.00,313.08" stroke="#cc2f36"/>
<path d="M330.77,306.46 C332.05,305.74 331.79,304.92 334.62,304.31 C337.44,303.69 337.69,304.51 339.23,304.62" stroke="#f0e256"/>
<path d="M330.77,306.46 C331.54,307.38 332.46,307.03 333.08,309.23 C333.69,311.44 332.77,311.79 332.62,313.08" stroke="#4a9c40"/>
<path d="M339.54,305.38 C339.18,307.44 340.10,307.85 338.46,311.54 C336.82,315.23 335.90,314.82 334.62,316.46" stroke="#cc2f36"/>
<path d="M344.62,309.23 C343.59,311.18 342.82,310.97 341.54,315.08 C340.26,319.18 341.03,319.38 340.77,321.54" stroke="#6cb6e6"/>
<path d="M349.54,312.31 C350.56,312.21 350.67,311.74 352.62,312.00 C354.56,312.26 354.46,312.72 355.38,313.08" stroke="#3a6cc0"/>
<path d="M348.00,313.23 C347.13,314.72 346.41,314.51 345.38,317.69 C344.36,320.87 345.08,321.08 344.92,322.77" stroke="#3a6cc0"/>
<path d="M351.08,319.23 C350.97,321.28 351.49,321.54 350.77,325.38 C350.05,329.23 349.54,328.97 348.92,330.77" stroke="#4a9c40"/>
<path d="M362.31,316.15 C362.36,318.97 362.72,320.26 362.46,324.62 C362.21,328.97 362.62,326.92 361.54,329.23 C360.46,331.54 360.00,330.77 359.23,331.54" stroke="#6a3a9c"/>
<path d="M367.69,316.92 C367.79,319.49 368.51,320.00 368.00,324.62 C367.49,329.23 366.77,328.72 366.15,330.77" stroke="#3a6cc0"/>
<path d="M311.69,315.38 C311.49,317.18 310.56,317.18 311.08,320.77 C311.59,324.36 312.51,324.36 313.23,326.15" stroke="#6a3a9c"/>
<path d="M315.38,316.15 C317.95,316.82 319.23,315.33 323.08,318.15 C326.92,320.97 325.64,322.46 326.92,324.62" stroke="#6cb6e6"/>
<path d="M323.08,318.77 C325.13,320.97 325.03,321.38 329.23,325.38 C333.44,329.38 333.54,328.97 335.69,330.77" stroke="#3a6cc0"/>
<path d="M316.15,323.85 C316.82,323.18 316.62,322.87 318.15,321.85 C319.69,320.82 319.90,321.13 320.77,320.77" stroke="#cc2f36"/>
<path d="M327.69,316.92 C328.72,318.05 328.97,317.74 330.77,320.31 C332.56,322.87 332.31,323.18 333.08,324.62" stroke="#f0e256"/>
<path d="M335.08,334.15 C336.21,334.05 336.21,334.56 338.46,333.85 C340.72,333.13 340.72,332.62 341.85,332.00" stroke="#f0e256"/>
<path d="M338.46,333.85 C338.56,335.38 339.03,335.38 338.77,338.46 C338.51,341.54 338.05,341.54 337.69,343.08" stroke="#f0e256"/>
<path d="M313.08,333.08 C315.28,331.69 315.59,329.18 319.69,328.92 C323.79,328.67 323.49,331.18 325.38,332.31" stroke="#6a3a9c"/>
<path d="M323.08,332.31 C325.38,335.38 324.26,335.79 330.00,341.54 C335.74,347.28 336.87,346.87 340.31,349.54" stroke="#3a6cc0"/>
<path d="M324.62,335.38 C325.64,336.82 326.56,336.51 327.69,339.69 C328.82,342.87 327.90,343.18 328.00,344.92" stroke="#4a9c40"/>
<path d="M313.08,339.23 C315.79,340.62 317.38,339.69 321.23,343.38 C325.08,347.08 323.49,348.00 324.62,350.31" stroke="#9aa070"/>
<path d="M318.46,336.92 C318.87,337.95 319.44,337.85 319.69,340.00 C319.95,342.15 319.38,342.26 319.23,343.38" stroke="#9aa070"/>
<path d="M350.77,337.23 C353.59,336.87 353.85,335.64 359.23,336.15 C364.62,336.67 364.36,337.90 366.92,338.77" stroke="#cc2f36"/>
<path d="M341.54,346.46 C345.38,345.44 348.36,343.38 353.08,343.38 C357.79,343.38 354.82,345.44 355.69,346.46" stroke="#cc2f36"/>
<path d="M344.62,339.54 C345.74,338.67 346.36,339.08 348.00,336.92 C349.64,334.77 349.03,334.36 349.54,333.08" stroke="#4a9c40"/>
<path d="M333.08,344.62 C333.85,345.23 333.79,345.44 335.38,346.46 C336.97,347.49 337.03,347.28 337.85,347.69" stroke="#f0e256"/>
<path d="M346.15,324.62 C346.67,325.54 347.18,325.23 347.69,327.38 C348.21,329.54 347.69,329.85 347.69,331.08" stroke="#6a3a9c"/>
<path d="M336.92,313.08 C337.54,313.64 337.74,313.38 338.77,314.77 C339.79,316.15 339.59,316.41 340.00,317.23" stroke="#6cb6e6"/>
<path d="M340.77,318.46 C341.44,319.74 342.00,319.64 342.77,322.31 C343.54,324.97 342.97,325.08 343.08,326.46" stroke="#f0e256"/>
<path d="M346.15,316.15 C346.77,315.64 346.46,314.97 348.00,314.62 C349.54,314.26 349.85,314.92 350.77,315.08" stroke="#6cb6e6"/>
<path d="M353.08,316.92 C353.95,316.82 354.31,316.10 355.69,316.62 C357.08,317.13 356.72,317.85 357.23,318.46" stroke="#4a9c40"/>
<path d="M318.15,326.15 C319.28,327.08 319.90,327.38 321.54,328.92 C323.18,330.46 322.56,330.15 323.08,330.77" stroke="#cc2f36"/>
<path d="M330.00,327.69 C331.03,328.31 331.69,327.74 333.08,329.54 C334.46,331.33 333.79,331.90 334.15,333.08" stroke="#6cb6e6"/>
</g>
<text x="406" y="309.6" font-size="12.55" text-anchor="middle" font-weight="normal" fill="#1c1c1c">Mass spec</text>
<text x="405.8" y="337.4" font-size="12.55" text-anchor="middle" font-weight="normal" fill="#1c1c1c">analysis</text>
<line x1="375.3" y1="319.4" x2="426" y2="319.4" stroke="#000" stroke-width="2.2"/><path d="M422.8,312.4 L436.8,319.4 L422.8,326.4 z" fill="#000"/>
<g stroke="#444" stroke-width="1.2" fill="none"><path d="M453,286 V347.7 H515"/></g>
<path d="M451.3,288.5 L453,284.3 L454.7,288.5 z" fill="#444"/><path d="M513.5,346 L517.5,347.7 L513.5,349.4 z" fill="#444"/>
<line x1="461.5" y1="347.3" x2="461.5" y2="290.8" stroke="#4e9a50" stroke-width="1.7"/>
<line x1="466.5" y1="347.3" x2="466.5" y2="309" stroke="#4e9a50" stroke-width="1.7"/>
<line x1="471" y1="347.3" x2="471" y2="319" stroke="#4e9a50" stroke-width="1.7"/>
<line x1="489.8" y1="347.3" x2="489.8" y2="309" stroke="#8fc492" stroke-width="1.7"/>
<line x1="494.5" y1="347.3" x2="494.5" y2="328" stroke="#8fc492" stroke-width="1.7"/>
<line x1="499" y1="347.3" x2="499" y2="338.5" stroke="#8fc492" stroke-width="1.7"/>
<path d="M466.3,291.8 C473,281.5 486,281.5 493.8,291" fill="none" stroke="#222" stroke-width="1.25" marker-end="url(#ah)"/>
</g>
<g id="panelD">
<path d="M87.70,427.6 V424.3 M84.50,424.3 H90.90" stroke="#2d2d2d" stroke-width="1.9" fill="none"/>
<rect x="80.95" y="428.2" width="13.50" height="136.0" fill="#ffffff" stroke="#2d2d2d" stroke-width="1.9"/>
<path d="M108.10,491.4 V481.5 M104.90,481.5 H111.30" stroke="#2d2d2d" stroke-width="1.9" fill="none"/>
<rect x="101.35" y="492.0" width="13.50" height="72.2" fill="#a9a9ad" stroke="#2d2d2d" stroke-width="1.9"/>
<path d="M128.50,540.1 V539.4 M125.30,539.4 H131.70" stroke="#2d2d2d" stroke-width="1.9" fill="none"/>
<rect x="121.75" y="540.7" width="13.50" height="23.5" fill="#666668" stroke="#2d2d2d" stroke-width="1.9"/>
<path d="M148.90,555.2 V554.0 M145.70,554.0 H152.10" stroke="#2d2d2d" stroke-width="1.9" fill="none"/>
<rect x="142.15" y="555.8" width="13.50" height="8.4" fill="#3a3a3c" stroke="#2d2d2d" stroke-width="1.9"/>
<path d="M178.80,439.0 V432.4 M175.60,432.4 H182.00" stroke="#2d2d2d" stroke-width="1.9" fill="none"/>
<rect x="172.05" y="439.5" width="13.50" height="124.7" fill="#ffffff" stroke="#2d2d2d" stroke-width="1.9"/>
<path d="M199.20,442.8 V420.6 M196.00,420.6 H202.40" stroke="#2d2d2d" stroke-width="1.9" fill="none"/>
<rect x="192.45" y="443.3" width="13.50" height="120.9" fill="#a9a9ad" stroke="#2d2d2d" stroke-width="1.9"/>
<path d="M219.60,440.9 V424.3 M216.40,424.3 H222.80" stroke="#2d2d2d" stroke-width="1.9" fill="none"/>
<rect x="212.85" y="441.4" width="13.50" height="122.8" fill="#666668" stroke="#2d2d2d" stroke-width="1.9"/>
<path d="M240.00,455.1 V449.9 M236.80,449.9 H243.20" stroke="#2d2d2d" stroke-width="1.9" fill="none"/>
<rect x="233.25" y="455.6" width="13.50" height="108.6" fill="#3a3a3c" stroke="#2d2d2d" stroke-width="1.9"/>
<path d="M268.20,499.5 V496.2 M265.00,496.2 H271.40" stroke="#2d2d2d" stroke-width="1.9" fill="none"/>
<rect x="261.45" y="500.0" width="13.50" height="64.2" fill="#ffffff" stroke="#2d2d2d" stroke-width="1.9"/>
<path d="M288.60,504.7 V493.3 M285.40,493.3 H291.80" stroke="#2d2d2d" stroke-width="1.9" fill="none"/>
<rect x="281.85" y="505.2" width="13.50" height="59.0" fill="#a9a9ad" stroke="#2d2d2d" stroke-width="1.9"/>
<path d="M309.00,511.3 V510.3 M305.80,510.3 H312.20" stroke="#2d2d2d" stroke-width="1.9" fill="none"/>
<rect x="302.25" y="511.8" width="13.50" height="52.4" fill="#666668" stroke="#2d2d2d" stroke-width="1.9"/>
<path d="M329.40,511.3 V510.6 M326.20,510.6 H332.60" stroke="#2d2d2d" stroke-width="1.9" fill="none"/>
<rect x="322.65" y="511.8" width="13.50" height="52.4" fill="#3a3a3c" stroke="#2d2d2d" stroke-width="1.9"/>
<path d="M75.1,416 V564.2 H341.5" fill="none" stroke="#222" stroke-width="2.3"/>
<line x1="71.5" y1="564.2" x2="75" y2="564.2" stroke="#222" stroke-width="1.6"/>
<text x="69.5" y="568.6" font-size="12.55" text-anchor="end" font-weight="normal" fill="#1c1c1c">0</text>
<line x1="71.5" y1="517.0" x2="75" y2="517.0" stroke="#222" stroke-width="1.6"/>
<text x="69.5" y="521.35" font-size="12.55" text-anchor="end" font-weight="normal" fill="#1c1c1c">100,000</text>
<line x1="71.5" y1="469.7" x2="75" y2="469.7" stroke="#222" stroke-width="1.6"/>
<text x="69.5" y="474.1" font-size="12.55" text-anchor="end" font-weight="normal" fill="#1c1c1c">200,000</text>
<line x1="71.5" y1="422.5" x2="75" y2="422.5" stroke="#222" stroke-width="1.6"/>
<text x="69.5" y="426.85" font-size="12.55" text-anchor="end" font-weight="normal" fill="#1c1c1c">300,000</text>
<line x1="164.3" y1="564" x2="164.3" y2="568.2" stroke="#222" stroke-width="1.4"/>
<line x1="253.3" y1="564" x2="253.3" y2="568.2" stroke="#222" stroke-width="1.4"/>
<text x="16.3" y="491.3" font-size="12.55" text-anchor="middle" font-weight="normal" fill="#1c1c1c" transform="rotate(-90 16.3 491.3)">Molecules per platelet</text>
<text x="124.3" y="573.3" font-size="12.55" text-anchor="end" font-weight="normal" fill="#1c1c1c" transform="rotate(-60 124.3 573.3)">Kindlin-3</text>
<text x="217.3" y="573.3" font-size="12.55" text-anchor="end" font-weight="normal" fill="#1c1c1c" transform="rotate(-60 217.3 573.3)">Talin-1</text>
<text x="305.6" y="573.3" font-size="12.55" text-anchor="end" font-weight="normal" fill="#1c1c1c" transform="rotate(-60 305.6 573.3)">Integrin β3</text>
<rect x="305.4" y="413.3" width="9.4" height="8.6" fill="#ffffff" stroke="#2d2d2d" stroke-width="1"/>
<text x="317.5" y="421.90000000000003" font-size="12.55" text-anchor="start" font-weight="normal" fill="#1c1c1c">+/+</text>
<rect x="305.4" y="428.7" width="9.4" height="8.6" fill="#a9a9ad" stroke="#2d2d2d" stroke-width="1"/>
<text x="317.5" y="437.3" font-size="12.55" text-anchor="start" font-weight="normal" fill="#1c1c1c">+/n</text>
<rect x="305.4" y="444.1" width="9.4" height="8.6" fill="#666668" stroke="#2d2d2d" stroke-width="1"/>
<text x="317.5" y="452.70000000000005" font-size="12.55" text-anchor="start" font-weight="normal" fill="#1c1c1c">n/n</text>
<rect x="305.4" y="459.5" width="9.4" height="8.6" fill="#3a3a3c" stroke="#2d2d2d" stroke-width="1"/>
<text x="317.5" y="468.1" font-size="12.55" text-anchor="start" font-weight="normal" fill="#1c1c1c">n/-</text>
</g>
<g id="panelE">
<path d="M465.00,448.0 V422.5 M461.80,422.5 H468.20" stroke="#2d2d2d" stroke-width="1.9" fill="none"/>
<rect x="458.25" y="448.5" width="13.50" height="115.8" fill="#a9a9ad" stroke="#2d2d2d" stroke-width="1.9"/>
<path d="M485.60,503.2 V498.8 M482.40,498.8 H488.80" stroke="#2d2d2d" stroke-width="1.9" fill="none"/>
<rect x="478.85" y="503.7" width="13.50" height="60.6" fill="#a9a9ad" stroke="#2d2d2d" stroke-width="1.9"/>
<path d="M506.20,501.7 V489.9 M503.00,489.9 H509.40" stroke="#2d2d2d" stroke-width="1.9" fill="none"/>
<rect x="499.45" y="502.3" width="13.50" height="62.0" fill="#a9a9ad" stroke="#2d2d2d" stroke-width="1.9"/>
<path d="M451.8,417 V564.3 H516.5" fill="none" stroke="#222" stroke-width="2.3"/>
<line x1="448.3" y1="564.3" x2="451.8" y2="564.3" stroke="#222" stroke-width="1.6"/>
<text x="446.5" y="568.6999999999999" font-size="12.55" text-anchor="end" font-weight="normal" fill="#1c1c1c">0</text>
<line x1="448.3" y1="535.4" x2="451.8" y2="535.4" stroke="#222" stroke-width="1.6"/>
<text x="446.5" y="539.8" font-size="12.55" text-anchor="end" font-weight="normal" fill="#1c1c1c">200,000</text>
<line x1="448.3" y1="506.5" x2="451.8" y2="506.5" stroke="#222" stroke-width="1.6"/>
<text x="446.5" y="510.8999999999999" font-size="12.55" text-anchor="end" font-weight="normal" fill="#1c1c1c">400,000</text>
<line x1="448.3" y1="477.6" x2="451.8" y2="477.6" stroke="#222" stroke-width="1.6"/>
<text x="446.5" y="481.99999999999994" font-size="12.55" text-anchor="end" font-weight="normal" fill="#1c1c1c">600,000</text>
<line x1="448.3" y1="448.7" x2="451.8" y2="448.7" stroke="#222" stroke-width="1.6"/>
<text x="446.5" y="453.0999999999999" font-size="12.55" text-anchor="end" font-weight="normal" fill="#1c1c1c">800,000</text>
<line x1="448.3" y1="419.8" x2="451.8" y2="419.8" stroke="#222" stroke-width="1.6"/>
<text x="446.5" y="424.19999999999993" font-size="12.55" text-anchor="end" font-weight="normal" fill="#1c1c1c">1,000,000</text>
<text x="385" y="490.5" font-size="12.55" text-anchor="middle" font-weight="normal" fill="#1c1c1c" transform="rotate(-90 385 490.5)">Molecules per neutrophil</text>
<text x="471.8" y="573.3" font-size="12.55" text-anchor="end" font-weight="normal" fill="#1c1c1c" transform="rotate(-60 471.8 573.3)">Integrin β2</text>
<text x="492.8" y="573.3" font-size="12.55" text-anchor="end" font-weight="normal" fill="#1c1c1c" transform="rotate(-60 492.8 573.3)">Kindlin-3</text>
<text x="512.8" y="573.3" font-size="12.55" text-anchor="end" font-weight="normal" fill="#1c1c1c" transform="rotate(-60 512.8 573.3)">Talin-1</text>
</g>
</svg></body></html>
